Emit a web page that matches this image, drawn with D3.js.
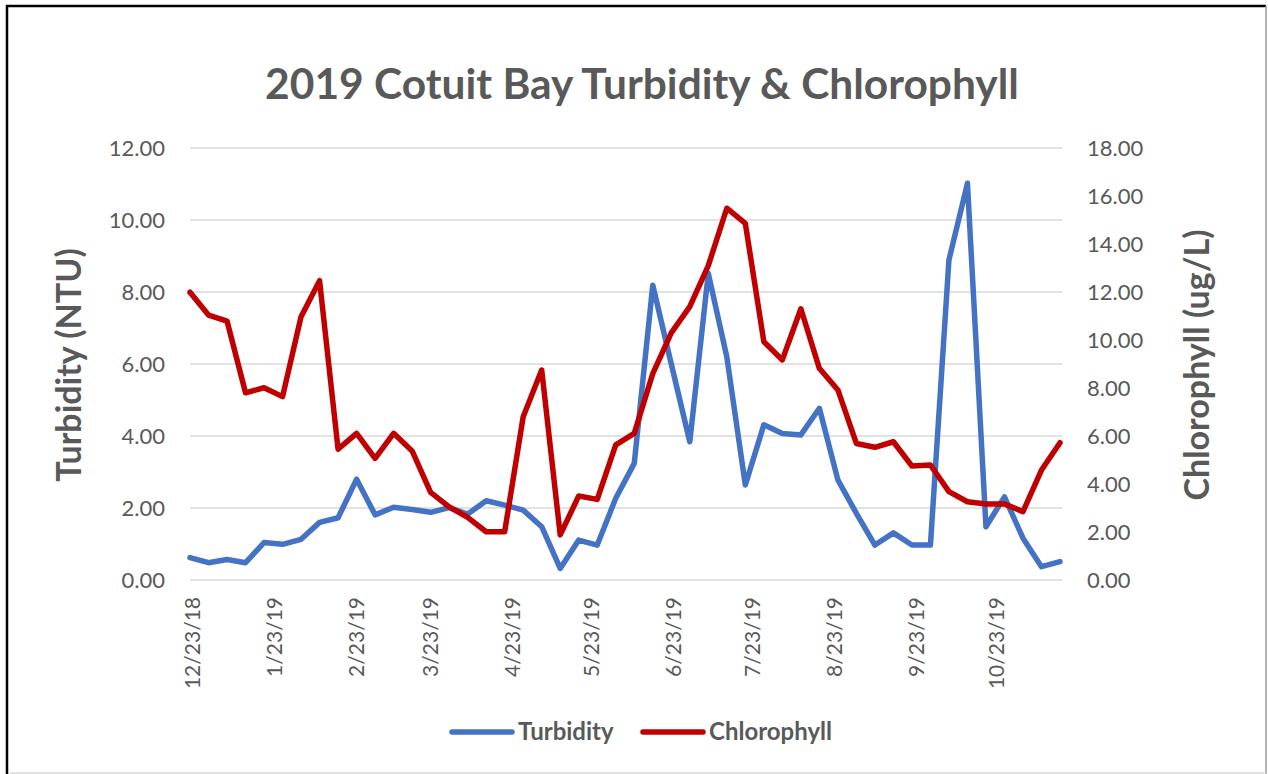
<!DOCTYPE html>
<html>
<head>
<meta charset="utf-8">
<script src="https://cdnjs.cloudflare.com/ajax/libs/d3/7.8.5/d3.min.js"></script>
<style>
  html, body { margin: 0; padding: 0; background: #fff; }
  svg { display: block; font-family: Lato, "Open Sans", sans-serif; }
</style>
</head>
<body>
<div id="chart"></div>
<script>
(function() {
    // sample dates (weekly)
    var dates = ["12/23/18","12/30/18","1/6/19","1/13/19","1/20/19","1/27/19","2/3/19","2/10/19",
                 "2/17/19","2/24/19","3/3/19","3/10/19","3/17/19","3/24/19","3/31/19","4/7/19",
                 "4/14/19","4/21/19","4/28/19","5/5/19","5/12/19","5/19/19","5/26/19","6/2/19",
                 "6/9/19","6/16/19","6/23/19","6/30/19","7/7/19","7/14/19","7/21/19","7/28/19",
                 "8/4/19","8/11/19","8/18/19","8/25/19","9/1/19","9/8/19","9/15/19","9/22/19",
                 "9/29/19","10/6/19","10/13/19","10/20/19","10/27/19","11/3/19","11/10/19","11/17/19"];

    var turbidity = [0.62,0.48,0.57,0.48,1.04,0.99,1.13,1.60,
                     1.73,2.80,1.81,2.02,1.96,1.88,2.01,1.83,
                     2.20,2.08,1.94,1.48,0.32,1.11,0.97,2.27,
                     3.24,8.19,6.00,3.84,8.52,6.20,2.64,4.31,
                     4.07,4.03,4.77,2.78,1.85,0.97,1.31,0.97,
                     0.97,8.89,11.02,1.48,2.31,1.16,0.37,0.51];

    var chlorophyll = [11.99,11.04,10.79,7.80,8.01,7.64,10.97,12.47,
                       5.45,6.11,5.07,6.11,5.38,3.65,3.05,2.61,
                       2.01,2.01,6.80,8.75,1.88,3.50,3.36,5.63,
                       6.11,8.60,10.30,11.39,13.10,15.49,14.86,9.93,
                       9.17,11.30,8.82,7.92,5.69,5.53,5.76,4.75,
                       4.79,3.68,3.26,3.17,3.17,2.85,4.58,5.72];

    var xTickLabels = ["12/23/18","1/23/19","2/23/19","3/23/19","4/23/19","5/23/19",
                       "6/23/19","7/23/19","8/23/19","9/23/19","10/23/19"];
    var leftTicks = [0,2,4,6,8,10,12];
    var rightTicks = [0,2,4,6,8,10,12,14,16,18];

    var width = 1268, height = 774;
    var parse = d3.timeParse("%m/%d/%y");
    var fmt = d3.timeFormat("%-m/%-d/%y");
    var grey = "#595959";

    var rows = dates.map(function(d, i) {
        return {date: parse(d), t: turbidity[i], c: chlorophyll[i]};
    });

    var svg = d3.select("#chart").append("svg")
                .attr("width", width)
                .attr("height", height);

    // frame
    svg.append("rect").attr("x", 0).attr("y", 0).attr("width", width).attr("height", height).attr("fill", "#fff");
    svg.append("line").attr("x1", 7).attr("x2", 7).attr("y1", 5).attr("y2", height)
       .attr("stroke", "#000").attr("stroke-width", 2.5);
    svg.append("line").attr("x1", 6).attr("x2", 1266).attr("y1", 6).attr("y2", 6)
       .attr("stroke", "#000").attr("stroke-width", 2.5);
    svg.append("line").attr("x1", 1266).attr("x2", 1266).attr("y1", 6).attr("y2", height)
       .attr("stroke", "#9a9a9a").attr("stroke-width", 1.5);
    svg.append("line").attr("x1", 10).attr("x2", 1266).attr("y1", 773).attr("y2", 773)
       .attr("stroke", "#d9d9d9").attr("stroke-width", 1.5);

    var x = d3.scaleTime()
              .domain(d3.extent(rows, function(d) { return d.date; }))
              .range([190, 1060]);
    var yL = d3.scaleLinear().domain([0, 12]).range([580, 148]);
    var yR = d3.scaleLinear().domain([0, 18]).range([580, 148]);

    // gridlines
    svg.append("g").selectAll("line")
       .data(leftTicks)
       .join("line")
       .attr("x1", 190).attr("x2", 1062)
       .attr("y1", function(d) { return yL(d); })
       .attr("y2", function(d) { return yL(d); })
       .attr("stroke", "#d9d9d9").attr("stroke-width", 1.5);

    // left axis
    var leftAxis = svg.append("g")
        .attr("transform", "translate(190,0)")
        .call(d3.axisLeft(yL).tickValues(leftTicks).tickFormat(d3.format(".2f")).tickSize(0).tickPadding(25));
    leftAxis.select(".domain").remove();
    leftAxis.selectAll("text").attr("fill", grey).style("font-size", "22px").style("font-family", "Lato, sans-serif");

    // right axis
    var rightAxis = svg.append("g")
        .attr("transform", "translate(1062,0)")
        .call(d3.axisRight(yR).tickValues(rightTicks).tickFormat(d3.format(".2f")).tickSize(0).tickPadding(25));
    rightAxis.select(".domain").remove();
    rightAxis.selectAll("text").attr("fill", grey).style("font-size", "22px").style("font-family", "Lato, sans-serif");

    // bottom axis
    var bottomAxis = svg.append("g")
        .attr("transform", "translate(0,580)")
        .call(d3.axisBottom(x).tickValues(xTickLabels.map(parse)).tickFormat(fmt).tickSize(0));
    bottomAxis.select(".domain").remove();
    bottomAxis.selectAll("text")
        .attr("fill", grey)
        .attr("text-anchor", "end")
        .attr("transform", "rotate(-90)")
        .attr("x", -17).attr("y", 2).attr("dy", "0.35em")
        .style("font-size", "21px").style("font-family", "Lato, sans-serif");

    // lines
    var lineT = d3.line()
        .x(function(d) { return x(d.date); })
        .y(function(d) { return yL(d.t); });
    var lineC = d3.line()
        .x(function(d) { return x(d.date); })
        .y(function(d) { return yR(d.c); });

    svg.append("path").datum(rows)
       .attr("d", lineT).attr("fill", "none")
       .attr("stroke", "#4472C4").attr("stroke-width", 5.5)
       .attr("stroke-linejoin", "round").attr("stroke-linecap", "round");
    svg.append("path").datum(rows)
       .attr("d", lineC).attr("fill", "none")
       .attr("stroke", "#C00000").attr("stroke-width", 5.5)
       .attr("stroke-linejoin", "round").attr("stroke-linecap", "round");

    // title
    svg.append("text")
       .attr("x", 642).attr("y", 99)
       .attr("text-anchor", "middle")
       .attr("fill", grey).attr("font-weight", "bold")
       .style("font-size", "42.5px")
       .text("2019 Cotuit Bay Turbidity & Chlorophyll");

    // axis titles
    svg.append("text")
       .attr("transform", "translate(81,365) rotate(-90)")
       .attr("text-anchor", "middle")
       .attr("fill", grey).attr("font-weight", "bold")
       .style("font-size", "34px")
       .text("Turbidity (NTU)");
    svg.append("text")
       .attr("transform", "translate(1209,365) rotate(-90)")
       .attr("text-anchor", "middle")
       .attr("fill", grey).attr("font-weight", "bold")
       .style("font-size", "34px")
       .text("Chlorophyll (ug/L)");

    // legend
    var legend = [
        {name: "Turbidity", color: "#4472C4", x: 452},
        {name: "Chlorophyll", color: "#C00000", x: 643}
    ];
    var lg = svg.append("g").selectAll("g").data(legend).join("g")
        .attr("transform", function(d) { return "translate(" + d.x + ",732)"; });
    lg.append("line").attr("x1", 0).attr("x2", 60).attr("y1", 0).attr("y2", 0)
      .attr("stroke", function(d) { return d.color; }).attr("stroke-width", 5.5)
      .attr("stroke-linecap", "round");
    lg.append("text").attr("x", 66).attr("y", 0).attr("dy", "0.35em")
      .attr("fill", grey).attr("font-weight", "bold")
      .style("font-size", "24px")
      .text(function(d) { return d.name; });
})();
</script>
</body>
</html>
